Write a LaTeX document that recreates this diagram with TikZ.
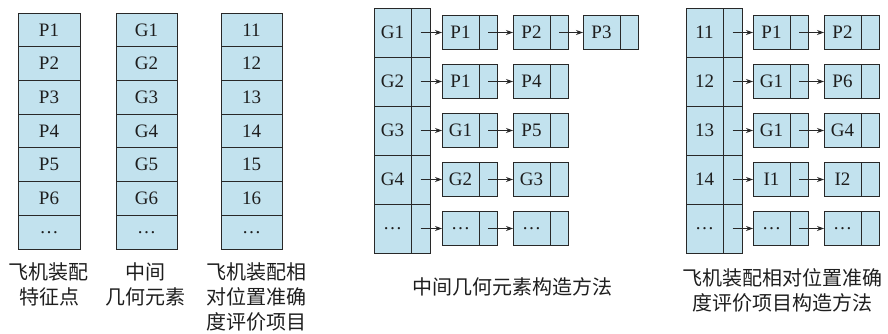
\documentclass[tikz,border=0pt]{standalone}
\usepackage{fontspec}
\setmainfont{Liberation Serif}
\newfontfamily\cjk{Noto Sans CJK SC}
\usetikzlibrary{arrows.meta}
\definecolor{cellfill}{RGB}{194,226,238}
\definecolor{edge}{RGB}{40,40,40}
\definecolor{ink}{RGB}{30,30,30}
\tikzset{
  cell/.style={draw=edge, fill=cellfill, line width=0.8pt, inner sep=0pt, outer sep=0pt,
    anchor=north west, text=ink, font=\fontsize{19}{22}\selectfont},
  dcell/.style={draw=edge, fill=cellfill, line width=0.8pt, inner sep=0pt, outer sep=0pt,
    anchor=west, minimum width=37pt, minimum height=34pt, text=ink, font=\fontsize{19}{22}\selectfont},
  pcell/.style={draw=edge, fill=cellfill, line width=0.8pt, inner sep=0pt, outer sep=0pt,
    anchor=west, minimum width=18pt, minimum height=34pt},
  linkarrow/.style={draw=edge, line width=0.8pt, -{Stealth[length=7pt,width=5pt]}},
  captext/.style={text=ink, font=\cjk\fontsize{20}{25}\selectfont, align=center, inner sep=0pt, anchor=north}
}
\newcommand{\lbox}[4]{%
  \node[dcell] (#1d) at (#2,#3) {#4};
  \node[pcell] (#1p) at (#1d.east) {};
}
\begin{document}
\begin{tikzpicture}[x=1pt,y=-1pt]
\useasboundingbox (0,0) rectangle (888,333);
% left three stacks
\foreach \t [count=\i from 0] in {P1,P2,P3,P4,P5,P6,\ldots}
  \node[cell, minimum width=62pt, minimum height=33.714pt] (a\i) at (18,{13+33.714*\i}) {\t};
\foreach \t [count=\i from 0] in {G1,G2,G3,G4,G5,G6,\ldots}
  \node[cell, minimum width=61pt, minimum height=33.714pt] (b\i) at (116,{13+33.714*\i}) {\t};
\foreach \t [count=\i from 0] in {11,12,13,14,15,16,\ldots}
  \node[cell, minimum width=61pt, minimum height=33.714pt] (c\i) at (221,{13+33.714*\i}) {\t};
\node[captext] (la) at (49,262) {飞机装配\\特征点};
\node[captext] (lb) at (145,262) {中间\\几何元素};
\node[captext] (lc) at (256,262) {飞机装配相\\对位置准确\\度评价项目};

% middle structure
\foreach \t [count=\i from 0] in {G1,G2,G3,G4,\ldots} {
  \node[cell, minimum width=37pt, minimum height=49pt] (mh\i) at (374,{8+49*\i}) {\t};
  \node[cell, minimum width=19pt, minimum height=49pt] (mp\i) at (411,{8+49*\i}) {};
}
\lbox{ma1}{442}{32.5}{P1}
\lbox{ma2}{513}{32.5}{P2}
\lbox{ma3}{583}{32.5}{P3}
\lbox{mb1}{442}{81.5}{P1}
\lbox{mb2}{513}{81.5}{P4}
\lbox{mc1}{442}{130.5}{G1}
\lbox{mc2}{513}{130.5}{P5}
\lbox{md1}{442}{179.5}{G2}
\lbox{md2}{513}{179.5}{G3}
\lbox{me1}{442}{228.5}{\ldots}
\lbox{me2}{513}{228.5}{\ldots}
\draw[linkarrow] (mp0.center) -- (ma1d.west);
\draw[linkarrow] (ma1p.center) -- (ma2d.west);
\draw[linkarrow] (ma2p.center) -- (ma3d.west);
\draw[linkarrow] (mp1.center) -- (mb1d.west);
\draw[linkarrow] (mb1p.center) -- (mb2d.west);
\draw[linkarrow] (mp2.center) -- (mc1d.west);
\draw[linkarrow] (mc1p.center) -- (mc2d.west);
\draw[linkarrow] (mp3.center) -- (md1d.west);
\draw[linkarrow] (md1p.center) -- (md2d.west);
\draw[linkarrow] (mp4.center) -- (me1d.west);
\draw[linkarrow] (me1p.center) -- (me2d.west);
\node[captext] (lm) at (512,277) {中间几何元素构造方法};

% right structure
\foreach \t [count=\i from 0] in {11,12,13,14,\ldots} {
  \node[cell, minimum width=37pt, minimum height=49pt] (rh\i) at (686,{8+49*\i}) {\t};
  \node[cell, minimum width=19pt, minimum height=49pt] (rp\i) at (723,{8+49*\i}) {};
}
\lbox{ra1}{753}{32.5}{P1}
\lbox{ra2}{824}{32.5}{P2}
\lbox{rb1}{753}{81.5}{G1}
\lbox{rb2}{824}{81.5}{P6}
\lbox{rc1}{753}{130.5}{G1}
\lbox{rc2}{824}{130.5}{G4}
\lbox{rd1}{753}{179.5}{I1}
\lbox{rd2}{824}{179.5}{I2}
\lbox{re1}{753}{228.5}{\ldots}
\lbox{re2}{824}{228.5}{\ldots}
\draw[linkarrow] (rp0.center) -- (ra1d.west);
\draw[linkarrow] (ra1p.center) -- (ra2d.west);
\draw[linkarrow] (rp1.center) -- (rb1d.west);
\draw[linkarrow] (rb1p.center) -- (rb2d.west);
\draw[linkarrow] (rp2.center) -- (rc1d.west);
\draw[linkarrow] (rc1p.center) -- (rc2d.west);
\draw[linkarrow] (rp3.center) -- (rd1d.west);
\draw[linkarrow] (rd1p.center) -- (rd2d.west);
\draw[linkarrow] (rp4.center) -- (re1d.west);
\draw[linkarrow] (re1p.center) -- (re2d.west);
\node[captext] (lr) at (782,268) {飞机装配相对位置准确\\度评价项目构造方法};
\end{tikzpicture}
\end{document}
